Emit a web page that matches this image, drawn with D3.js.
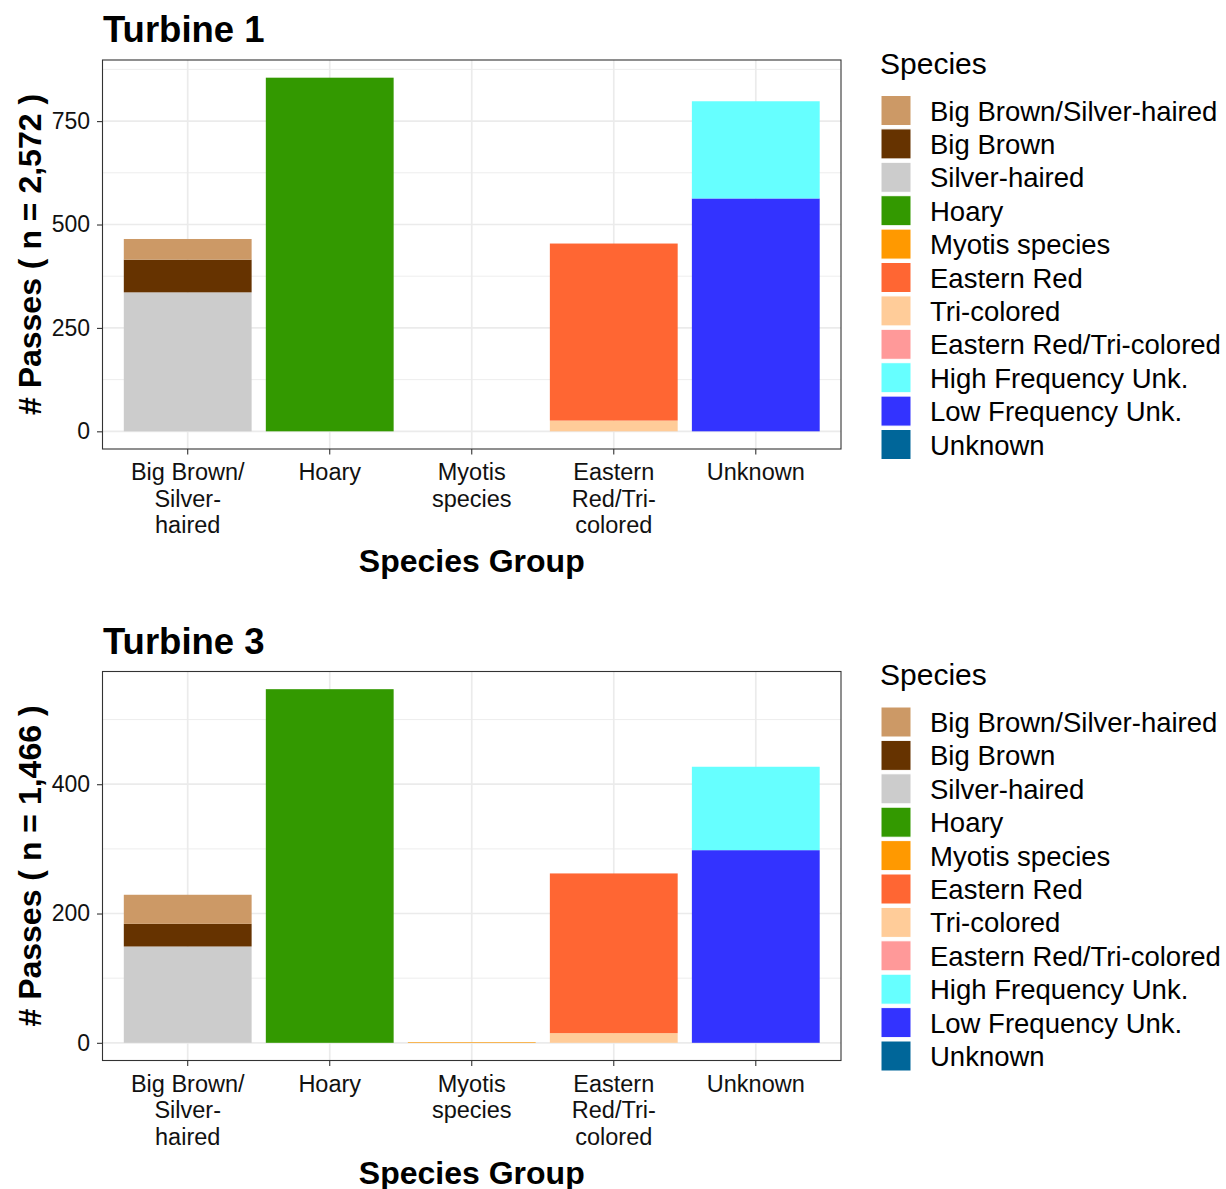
<!DOCTYPE html>
<html>
<head>
<meta charset="utf-8">
<script src="https://cdn.jsdelivr.net/npm/d3@7"></script>
<style>
  html, body { margin: 0; padding: 0; background: #fff; }
  svg { display: block; font-family: "Liberation Sans", Arial, sans-serif; }
</style>
</head>
<body>
<svg id="chart" width="1226" height="1189"></svg>
<script>
// ---- data ----
const categories = ["Big Brown/Silver-haired", "Hoary", "Myotis species", "Eastern Red/Tri-colored", "Unknown"];
const categoryLabels = [["Big Brown/", "Silver-", "haired"], ["Hoary"], ["Myotis", "species"], ["Eastern", "Red/Tri-", "colored"], ["Unknown"]];
const species = ["Big Brown/Silver-haired", "Big Brown", "Silver-haired", "Hoary", "Myotis species", "Eastern Red",
                 "Tri-colored", "Eastern Red/Tri-colored", "High Frequency Unk.", "Low Frequency Unk.", "Unknown"];
const speciesGroup = ["Big Brown/Silver-haired", "Big Brown/Silver-haired", "Big Brown/Silver-haired", "Hoary", "Myotis species",
                      "Eastern Red/Tri-colored", "Eastern Red/Tri-colored", "Eastern Red/Tri-colored", "Unknown", "Unknown", "Unknown"];
const speciesColors = ["#CC9966", "#663300", "#CCCCCC", "#339900", "#FF9900", "#FF6633",
                       "#FFCC99", "#FF9999", "#66FFFF", "#3333FF", "#006699"];
const turbine1Values = [50, 79, 336, 855, 0, 428, 26, 0, 235, 563, 0];
const turbine3Values = [45, 35, 149, 547, 1, 247, 15, 0, 129, 298, 0];
const turbine1Ticks = [0, 250, 500, 750];
const turbine3Ticks = [0, 200, 400];
const panels = [
  { title: "Turbine 1", n: "2,572", values: turbine1Values, ticks: turbine1Ticks, minor: [125, 375, 625, 875] },
  { title: "Turbine 3", n: "1,466", values: turbine3Values, ticks: turbine3Ticks, minor: [100, 300, 500] }
];

// ---- layout ----
const svg = d3.select("#chart");
const plotLeft = 102.5, plotRight = 841, panelH = 389, panelShift = 611.5, firstTop = 60;
const color = d3.scaleOrdinal().domain(species).range(speciesColors);

panels.forEach((p, pi) => {
  const top = firstTop + pi * panelShift;
  const bottom = top + panelH;
  const g = svg.append("g");

  const x = d3.scaleBand().domain(categories).range([plotLeft, plotRight]).paddingInner(0.1).paddingOuter(0.15);

  // stacking: first legend level on top
  const rows = categories.map(c => {
    const r = { group: c };
    species.forEach((s, i) => { r[s] = speciesGroup[i] === c ? p.values[i] : 0; });
    return r;
  });
  const stackKeys = species.slice().reverse();
  const series = d3.stack().keys(stackKeys)(rows);
  const maxV = d3.max(series, s => d3.max(s, d => d[1]));
  const y = d3.scaleLinear().domain([-0.05 * maxV, maxV * 1.05]).range([bottom, top]);

  g.append("rect").attr("x", plotLeft).attr("y", top).attr("width", plotRight - plotLeft).attr("height", panelH).attr("fill", "#fff");

  // grid
  g.selectAll(".minor").data(p.minor.filter(v => y(v) > top)).join("line")
    .attr("x1", plotLeft).attr("x2", plotRight).attr("y1", d => y(d)).attr("y2", d => y(d))
    .attr("stroke", "#EBEBEB").attr("stroke-width", 0.9);
  g.selectAll(".major").data(p.ticks).join("line")
    .attr("x1", plotLeft).attr("x2", plotRight).attr("y1", d => y(d)).attr("y2", d => y(d))
    .attr("stroke", "#EBEBEB").attr("stroke-width", 1.7);
  g.selectAll(".vmajor").data(categories).join("line")
    .attr("x1", d => x(d) + x.bandwidth() / 2).attr("x2", d => x(d) + x.bandwidth() / 2)
    .attr("y1", top).attr("y2", bottom)
    .attr("stroke", "#EBEBEB").attr("stroke-width", 1.7);

  // bars
  series.forEach(s => {
    g.selectAll(null).data(s.filter(d => d[1] - d[0] > 0)).join("rect")
      .attr("x", d => x(d.data.group))
      .attr("width", x.bandwidth())
      .attr("y", d => y(d[1]))
      .attr("height", d => y(d[0]) - y(d[1]))
      .attr("fill", color(s.key));
  });

  // border
  g.append("rect").attr("x", plotLeft).attr("y", top).attr("width", plotRight - plotLeft).attr("height", panelH)
    .attr("fill", "none").attr("stroke", "#333333").attr("stroke-width", 1.1);

  // y axis
  const yAxis = g.append("g").attr("transform", `translate(${plotLeft},0)`)
    .call(d3.axisLeft(y).tickValues(p.ticks).tickSize(5.5).tickPadding(7).tickFormat(d3.format("d")));
  yAxis.select(".domain").remove();
  yAxis.selectAll(".tick line").attr("stroke", "#333333").attr("stroke-width", 1.1);
  yAxis.selectAll(".tick text").attr("font-size", 23).attr("fill", "#111")
    .attr("font-family", "'Liberation Sans', Arial, sans-serif");

  // x axis
  const xAxis = g.append("g").attr("transform", `translate(0,${bottom})`)
    .call(d3.axisBottom(x).tickSize(5.5).tickFormat(""));
  xAxis.select(".domain").remove();
  xAxis.selectAll(".tick line").attr("stroke", "#333333").attr("stroke-width", 1.1);
  categories.forEach((c, i) => {
    const t = g.append("text").attr("text-anchor", "middle").attr("font-size", 23.5).attr("fill", "#111")
      .attr("x", x(c) + x.bandwidth() / 2).attr("y", bottom + 31);
    categoryLabels[i].forEach((line, li) => {
      t.append("tspan").attr("x", x(c) + x.bandwidth() / 2).attr("dy", li === 0 ? 0 : 26.5).text(line);
    });
  });

  // titles
  g.append("text").attr("x", 103).attr("y", top - 18).attr("font-size", 36.5).attr("font-weight", "bold")
    .attr("fill", "#000").text(p.title);
  g.append("text").attr("x", (plotLeft + plotRight) / 2).attr("y", bottom + 123).attr("text-anchor", "middle")
    .attr("font-size", 32).attr("font-weight", "bold").attr("fill", "#000").text("Species Group");
  g.append("text").attr("transform", `translate(40.5,${(top + bottom) / 2}) rotate(-90)`).attr("text-anchor", "middle")
    .attr("font-size", 32).attr("font-weight", "bold").attr("fill", "#000").text(`# Passes ( n = ${p.n} )`);

  // legend
  const lg = g.append("g").attr("transform", `translate(881,${top})`);
  lg.append("text").attr("x", -1).attr("y", 13.5).attr("font-size", 30).attr("fill", "#000").text("Species");
  species.forEach((s, i) => {
    const ky = 35.5 + i * 33.4;
    lg.append("rect").attr("x", 0).attr("y", ky).attr("width", 30).attr("height", 30)
      .attr("fill", color(s)).attr("stroke", "#fff").attr("stroke-width", 1);
    lg.append("text").attr("x", 49).attr("y", ky + 15 + 10).attr("font-size", 27.5).attr("fill", "#000").text(s);
  });
});
</script>
</body>
</html>
